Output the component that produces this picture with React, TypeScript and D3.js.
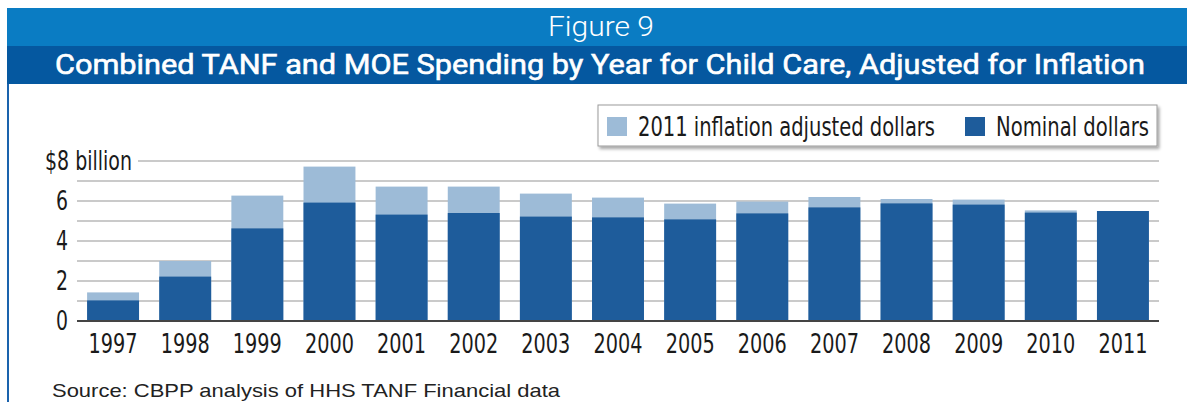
import React from "react";
import * as d3 from "d3";

const years = ["1997","1998","1999","2000","2001","2002","2003","2004","2005","2006","2007","2008","2009","2010","2011"];
const nominal = [1.03, 2.22, 4.63, 5.92, 5.32, 5.40, 5.22, 5.18, 5.08, 5.38, 5.68, 5.88, 5.82, 5.42, 5.50];
const adjusted = [1.43, 3.00, 6.27, 7.72, 6.72, 6.72, 6.37, 6.17, 5.87, 5.97, 6.20, 6.10, 6.07, 5.53, 5.50];
const gridValues = [1, 2, 3, 4, 5, 6, 7, 8];
const tickLabels = [
  { v: 0, label: "0" },
  { v: 2, label: "2" },
  { v: 4, label: "4" },
  { v: 6, label: "6" },
];
const topLabel = "$8 billion";
const legendItems = ["2011 inflation adjusted dollars", "Nominal dollars"];

const W = 1187;
const H = 402;
const LIGHT = "#9dbbd7";
const DARK = "#1e5c9b";
const COND = "'Liberation Sans Narrow', 'DejaVu Sans Condensed', 'Roboto', sans-serif";

export default function App() {
  const x = d3.scaleBand<string>().domain(years).range([77, 1159]).paddingInner(0.28).paddingOuter(0.14);
  const y = d3.scaleLinear().domain([0, 8]).range([321, 161]);

  return (
    <svg width={W} height={H} style={{ position: "absolute", left: 0, top: 0, background: "#fff" }}>
      <defs>
        <filter id="sh" x="-5%" y="-30%" width="110%" height="170%">
          <feDropShadow dx="2" dy="2.5" stdDeviation="1.5" floodColor="#000" floodOpacity="0.35" />
        </filter>
      </defs>
      {/* header */}
      <rect x={7} y={8} width={W - 7} height={38} fill="#0a7cc3" />
      <rect x={7} y={46} width={W - 7} height={38} fill="#0558a0" />
      <rect x={7} y={84} width={2} height={H - 84} fill="#1a63ad" />
      <text x={601} y={36} textAnchor="middle" fill="#fff" fontFamily="Roboto, 'Open Sans', sans-serif" fontWeight={300} fontSize={27} textLength={106} lengthAdjust="spacingAndGlyphs">Figure 9</text>
      <text x={600} y={74} textAnchor="middle" fill="#fff" stroke="#fff" strokeWidth={0.6} fontFamily="Roboto, 'Liberation Sans', sans-serif" fontWeight={400} fontSize={28} textLength={1090} lengthAdjust="spacingAndGlyphs">Combined TANF and MOE Spending by Year for Child Care, Adjusted for Inflation</text>

      {/* grid */}
      {gridValues.map((v) => (
        <line key={v} x1={v === 8 ? 138 : 77} x2={1159} y1={y(v)} y2={y(v)} stroke="#b9b9b9" strokeWidth={1.5} />
      ))}

      {/* bars */}
      {years.map((yr, i) => (
        <g key={yr}>
          <rect x={x(yr)} y={y(adjusted[i])} width={x.bandwidth()} height={y(0) - y(adjusted[i])} fill={LIGHT} />
          <rect x={x(yr)} y={y(nominal[i])} width={x.bandwidth()} height={y(0) - y(nominal[i])} fill={DARK} />
        </g>
      ))}
      <line x1={77} x2={1159} y1={y(0)} y2={y(0)} stroke="#444" strokeWidth={2} />

      {/* y labels */}
      {tickLabels.map((t) => (
        <text key={t.v} x={68} y={y(t.v)} dy="0.35em" textAnchor="end" fill="#1a1a1a" fontFamily={COND} fontSize={26} textLength={12} lengthAdjust="spacingAndGlyphs">{t.label}</text>
      ))}
      <text x={132} y={y(8)} dy="0.35em" textAnchor="end" fill="#1a1a1a" fontFamily={COND} fontSize={26} textLength={87} lengthAdjust="spacingAndGlyphs">{topLabel}</text>

      {/* x labels */}
      {years.map((yr) => (
        <text key={yr} x={(x(yr) as number) + x.bandwidth() / 2} y={353} textAnchor="middle" fill="#1a1a1a" fontFamily={COND} fontSize={26} textLength={49} lengthAdjust="spacingAndGlyphs">{yr}</text>
      ))}

      {/* legend */}
      <rect x={598} y={105} width={559} height={41} fill="#fff" stroke="#9a9a9a" strokeWidth={1} filter="url(#sh)" />
      <rect x={607} y={117} width={20} height={19} fill={LIGHT} />
      <text x={638} y={136} fill="#1a1a1a" fontFamily={COND} fontSize={27} textLength={297} lengthAdjust="spacingAndGlyphs">{legendItems[0]}</text>
      <rect x={965} y={117} width={20} height={19} fill={DARK} />
      <text x={996} y={136} fill="#1a1a1a" fontFamily={COND} fontSize={27} textLength={153} lengthAdjust="spacingAndGlyphs">{legendItems[1]}</text>

      {/* source */}
      <text x={52} y={397} fill="#222" fontFamily="'Liberation Sans', Arial, sans-serif" fontSize={18.5} textLength={508} lengthAdjust="spacingAndGlyphs">Source: CBPP analysis of HHS TANF Financial data</text>
    </svg>
  );
}
